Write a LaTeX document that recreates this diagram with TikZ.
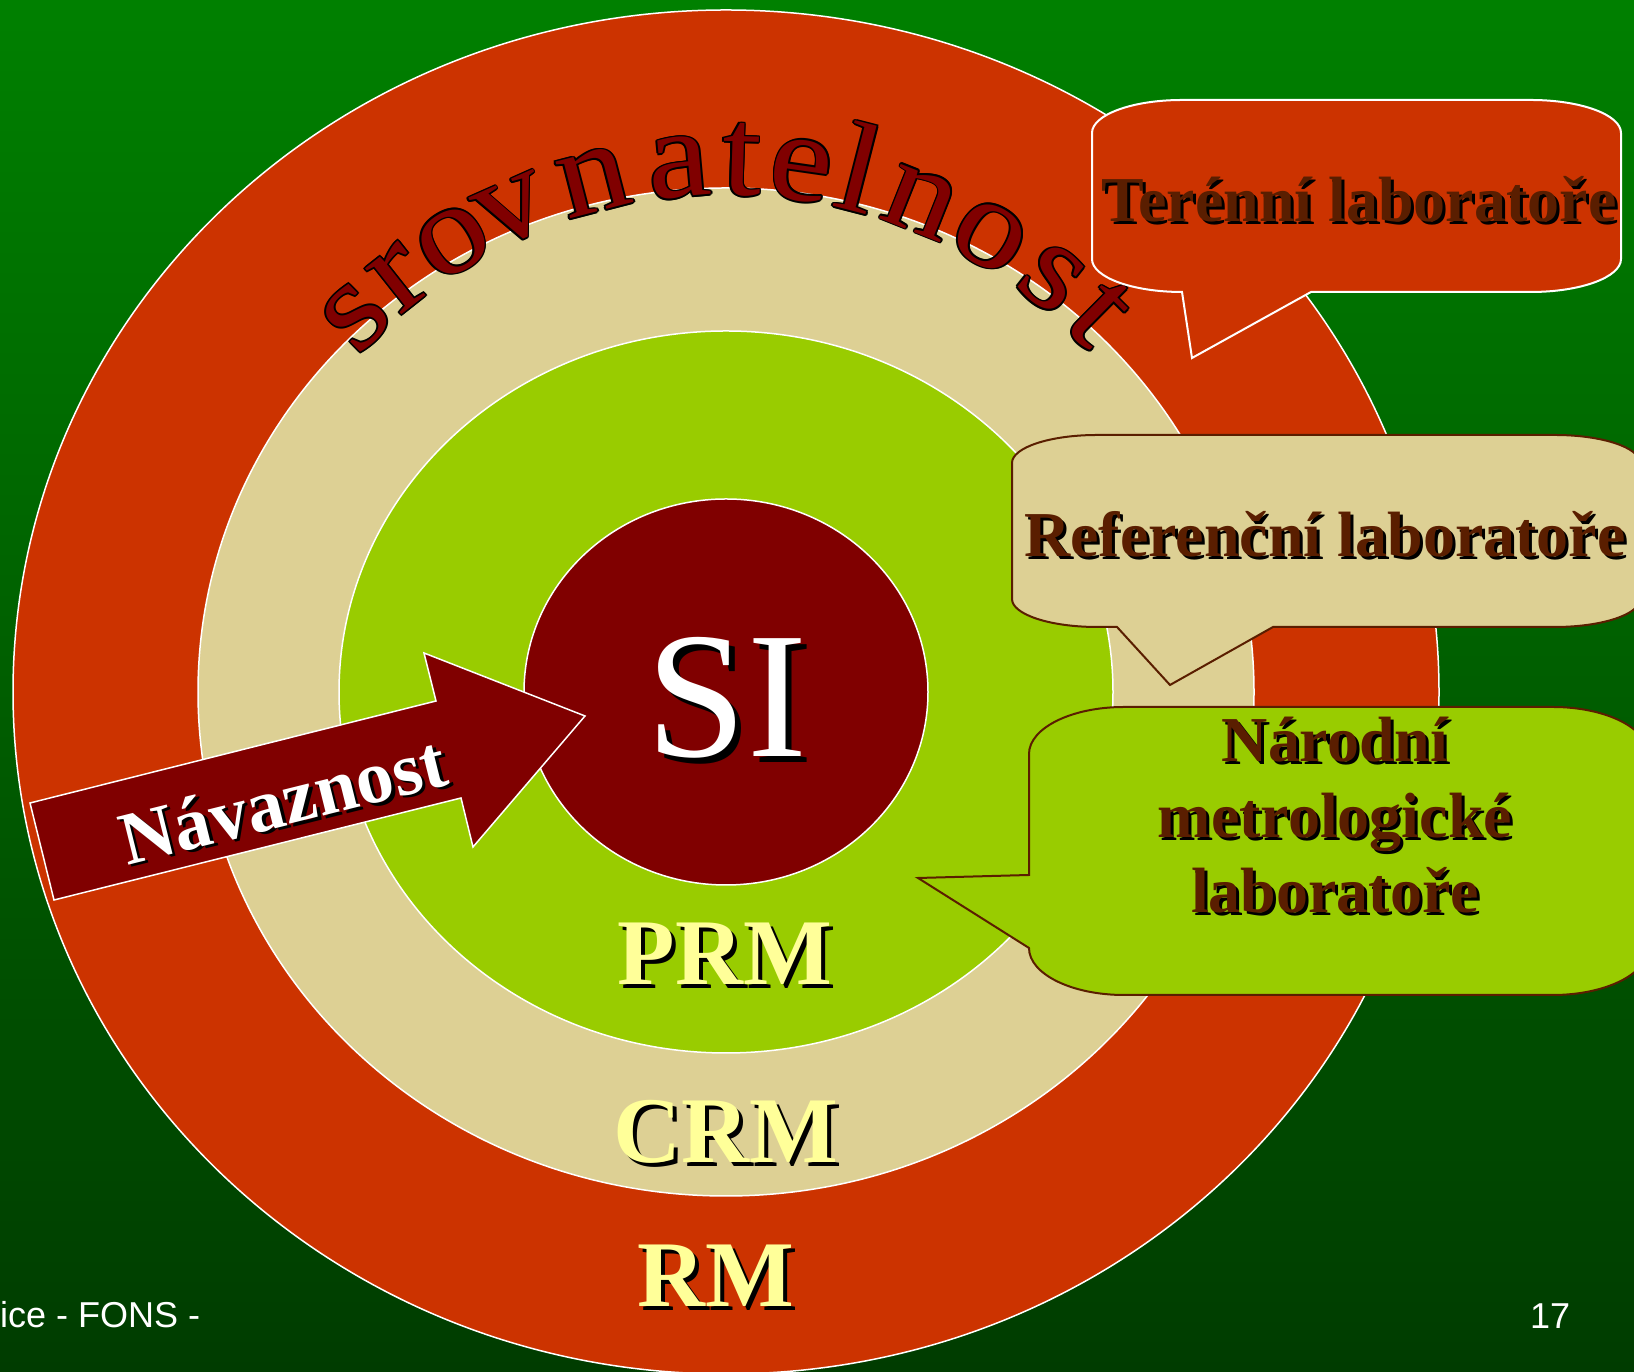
\documentclass[tikz,border=0pt]{standalone}
\usepackage{fontspec}
\setmainfont{Liberation Serif}
\newfontfamily\footfont{Liberation Sans}
\usepackage{contour}
\usetikzlibrary{calc}
\definecolor{bgtop}{RGB}{0,128,0}
\definecolor{bgbottom}{RGB}{0,60,0}
\definecolor{rmred}{RGB}{204,51,0}
\definecolor{crmbeige}{RGB}{221,208,148}
\definecolor{prmgreen}{RGB}{153,204,0}
\definecolor{sidark}{RGB}{128,0,0}
\definecolor{labbrown}{RGB}{90,30,0}
\definecolor{rmyellow}{RGB}{255,255,153}
\contourlength{1.5pt}
\contournumber{8}
\newcommand\shtext[2][3pt]{\rlap{\raisebox{-#1}{\hspace{#1}\color{black}#2}}#2}

\begin{document}
\begin{tikzpicture}[
    x=1pt, y=1pt,
    ring/.style={draw=white, line width=1.5pt},
    callout/.style={line width=2pt},
    lab/.style={font=\fontsize{64}{75.5}\selectfont\bfseries, text=labbrown, align=center, anchor=base, inner sep=0pt},
    rmlabel/.style={font=\fontsize{94}{100}\selectfont\bfseries, text=rmyellow, anchor=base, inner sep=0pt},
    arcletter/.style={font=\fontsize{118}{120}\selectfont, text=sidark, anchor=base, inner sep=0pt},
    footer/.style={font=\footfont\fontsize{36}{40}\selectfont, text=white, anchor=base west, inner sep=0pt}
]
    \useasboundingbox (0,0) rectangle (1634,1372);
    \clip (0,0) rectangle (1634,1372);
    \shade[top color=bgtop, bottom color=bgbottom] (0,0) rectangle (1634,1372);

    % Rings
    \coordinate (C) at (726,680);
    \filldraw[ring, fill=rmred] (C) ellipse [x radius=713, y radius=682];
    \filldraw[ring, fill=crmbeige] (C) ellipse [x radius=528, y radius=504];
    \filldraw[ring, fill=prmgreen] (C) ellipse [x radius=387, y radius=361];
    \filldraw[ring, fill=sidark] (C) ellipse [x radius=202, y radius=193];

    \node[font=\fontsize{180}{190}\selectfont, text=white, anchor=base, inner sep=0pt] (si) at (727,615) {\shtext[6pt]{SI}};
    \node[rmlabel] (prm) at (725,387) {\shtext[4pt]{PRM}};
    \node[rmlabel] (crm) at (726,209) {\shtext[4pt]{CRM}};
    \node[rmlabel] (rm) at (716,65) {\shtext[4pt]{RM}};

    % Arrow
    \filldraw[draw=white, line width=1.5pt, fill=sidark] (54,472) -- (30,569) -- (436,671) -- (424,719) -- (585,656) -- (473,525) -- (461,574) -- cycle;
    \node[font=\fontsize{75}{78}\selectfont\bfseries, text=white, rotate=14, anchor=base, inner sep=0pt] (navaz) at (289,547) {\shtext{Návaznost}};

    % srovnatelnost
    \foreach \ch/\ang [count=\i] in {s/134.6, r/128.3, o/121.2, v/113.9, n/104.5, a/95.1, t/88.3, e/81.8, l/75.6, n/68.3, o/59.9, s/51.7, t/45.3}
        \node[arcletter, rotate=\ang-90] (sr\i) at ([shift={(\ang:497)}]C) {\scalebox{1.2}[1.08]{\contour{black}{\ch}}};

    % Callouts
    \filldraw[callout, draw=white, fill=rmred] (1311,1080) -- (1531,1080)
        arc[start angle=270, end angle=360, x radius=90, y radius=33] -- (1621,1239)
        arc[start angle=0, end angle=90, x radius=90, y radius=33] -- (1182,1272)
        arc[start angle=90, end angle=180, x radius=90, y radius=33] -- (1092,1113)
        arc[start angle=180, end angle=270, x radius=90, y radius=33] -- (1192,1014) -- cycle;
    \node[lab] (teren) at (1359,1150) {\shtext{Terénní laboratoře}};

    \filldraw[callout, draw=labbrown, fill=crmbeige] (1273,745) -- (1555,745)
        arc[start angle=270, end angle=360, x radius=85, y radius=28] -- (1640,909)
        arc[start angle=0, end angle=90, x radius=85, y radius=28] -- (1097,937)
        arc[start angle=90, end angle=180, x radius=85, y radius=28] -- (1012,773)
        arc[start angle=180, end angle=270, x radius=85, y radius=28] -- (1117,745) -- (1170,687) -- cycle;
    \node[lab] (refer) at (1325,815) {\shtext{Referenční laboratoře}};

    \filldraw[callout, draw=labbrown, fill=prmgreen] (918,494) -- (1029,424)
        arc[start angle=180, end angle=270, x radius=95, y radius=47] -- (1553,377)
        arc[start angle=270, end angle=360, x radius=95, y radius=47] -- (1648,618)
        arc[start angle=0, end angle=90, x radius=95, y radius=47] -- (1124,665)
        arc[start angle=90, end angle=180, x radius=95, y radius=47] -- (1029,497) -- cycle;
    \node[lab] (nml) at (1335,459) {\shtext{Národní}\\\shtext{metrologické}\\\shtext{laboratoře}};

    % Footer
    \node[footer] (foot) at (0,44) {ice - FONS -};
    \node[footer] (page) at (1530,43) {17};
\end{tikzpicture}
\end{document}
